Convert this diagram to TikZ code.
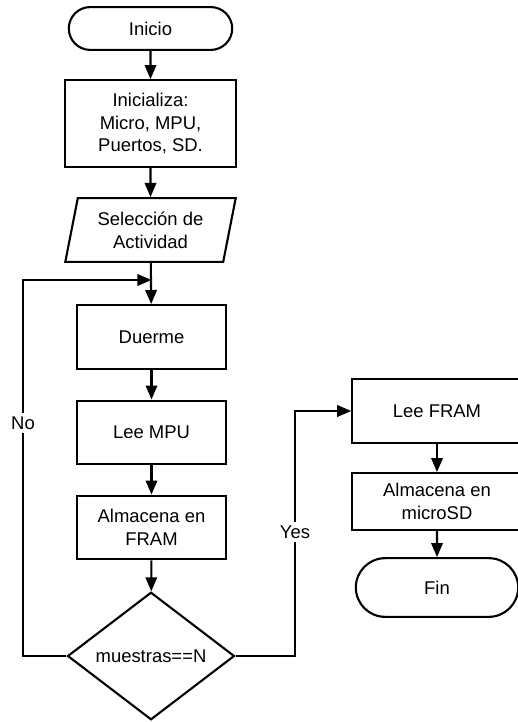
\documentclass[tikz,border=0pt]{standalone}
\usepackage{fontspec}
\setmainfont{Liberation Sans}
\usetikzlibrary{shapes.geometric,shapes.misc,arrows.meta}

\tikzset{
  caja/.style={draw, line width=1.2pt, align=center, inner sep=2pt},
  proceso/.style={caja, rectangle, minimum width=84.5pt, minimum height=36.3pt},
  terminal/.style={caja, rounded rectangle, minimum width=97pt},
  entrada/.style={caja, trapezium, trapezium left angle=74, trapezium right angle=106,
    trapezium stretches body, minimum width=97pt, minimum height=36.3pt},
  decision/.style={caja, diamond, aspect=1.31, inner sep=0pt, minimum width=95pt, minimum height=72.6pt},
  flecha/.style={line width=1.2pt, -{Triangle[length=8pt,width=6.5pt]}},
  etiqueta/.style={fill=white, inner sep=2pt}
}

\begin{document}
\begin{tikzpicture}[x=0.02cm, y=-0.02cm, font=\fontsize{10.5}{13}\selectfont]
    \useasboundingbox (0,0) rectangle (517,722);
    % columna principal
    \node[terminal, minimum height=24.4pt] (inicio) at (150.5,28.5) {Inicio};
    \node[proceso, minimum width=97pt, minimum height=49.3pt] (init) at (150.5,123.5) {Inicializa:\\Micro, MPU,\\Puertos, SD.};
    \node[entrada] (sel) at (150.5,230) {Selección de\\Actividad};
    \node[proceso] (duerme) at (151.5,337) {Duerme};
    \node[proceso] (leempu) at (151.5,432.5) {Lee MPU};
    \node[proceso] (almfram) at (151.5,527.5) {Almacena en\\FRAM};
    \node[decision] (dec) at (151,656) {muestras==N};
    % columna derecha
    \node[proceso, minimum width=96.4pt] (leefram) at (437,411) {Lee FRAM};
    \node[proceso, minimum width=96.4pt, minimum height=32.3pt] (almsd) at (437,501.5) {Almacena en\\microSD};
    \node[terminal, minimum height=33.4pt, minimum width=96.4pt] (fin) at (437,587.5) {Fin};
    \coordinate (entra) at (151.5,280);
    \coordinate (noarr) at (23,280);
    \coordinate (sicod) at (295,656);

    \draw[flecha] (inicio) -- (init);
    \draw[flecha] (init) -- (sel);
    \draw[flecha] (sel) -- (duerme);
    \draw[flecha] (duerme) -- (leempu);
    \draw[flecha] (leempu) -- (almfram);
    \draw[flecha] (almfram) -- (dec);
    \draw[flecha] (dec.west) -| node[etiqueta, pos=0.81] {No} (noarr) -- (entra);
    \draw[flecha] (dec.east) -- (sicod) |- node[etiqueta, pos=0.253] {Yes} (leefram.west);
    \draw[flecha] (leefram) -- (almsd);
    \draw[flecha] (almsd) -- (fin);
  \end{tikzpicture}
\end{document}
